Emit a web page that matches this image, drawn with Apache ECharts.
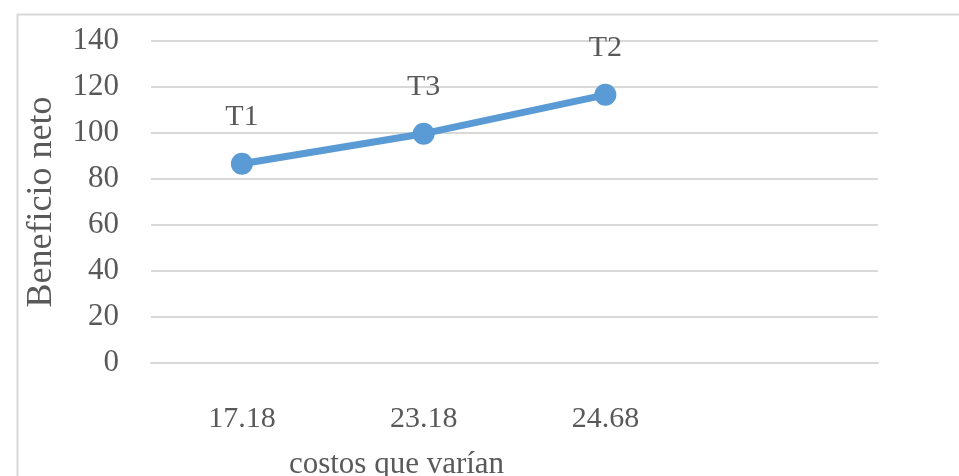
<!DOCTYPE html>
<html>
<head>
<meta charset="utf-8">
<script src="https://cdn.jsdelivr.net/npm/echarts@6/dist/echarts.min.js"></script>
<style>
    html, body { margin: 0; padding: 0; background: #fff; }
    #chart { width: 959px; height: 476px; }
</style>
</head>
<body>
<div id="chart"></div>
<script>
    // costos que varían (last category is empty in the original)
    var categories = ['17.18', '23.18', '24.68', ''];
    var beneficio = [86.6, 99.7, 116.6, null];
    var pointNames = ['T1', 'T3', 'T2', ''];
    var yTicks = [0, 140, 20]; // min, max, interval

    var textColor = '#595959';
    var font = 'Liberation Serif';

    var chart = echarts.init(document.getElementById('chart'));
    chart.setOption({
        backgroundColor: '#fff',
        animation: false,
        graphic: [{
            type: 'rect',
            left: 15, top: 12,
            shape: { width: 1000, height: 520 },
            style: { fill: 'none', stroke: '#D9D9D9', lineWidth: 2 },
            silent: true
        }],
        grid: { left: 151, right: 81, top: 41, bottom: 113, outerBoundsMode: 'none', containLabel: false },
        xAxis: {
            type: 'category',
            data: categories,
            boundaryGap: true,
            axisLine: { show: true, lineStyle: { color: '#D9D9D9', width: 2 } },
            axisTick: { show: false },
            axisLabel: { color: textColor, fontFamily: font, fontSize: 30, margin: 41 },
            name: 'costos que varían',
            nameLocation: 'middle',
            nameGap: 86,
            nameTextStyle: { color: textColor, fontFamily: font, fontSize: 31, padding: [0, 236, 0, 0] }
        },
        yAxis: {
            type: 'value',
            min: yTicks[0], max: yTicks[1], interval: yTicks[2],
            axisLine: { show: false },
            axisTick: { show: false },
            splitLine: { lineStyle: { color: '#D9D9D9', width: 2 } },
            axisLabel: { color: textColor, fontFamily: font, fontSize: 31, margin: 32 },
            name: 'Beneficio neto',
            nameLocation: 'middle',
            nameRotate: 90,
            nameGap: 91,
            nameTextStyle: { color: textColor, fontFamily: font, fontSize: 36 }
        },
        series: [{
            type: 'line',
            data: beneficio,
            symbol: 'circle',
            symbolSize: 22,
            itemStyle: { color: '#5B9BD5' },
            lineStyle: { color: '#5B9BD5', width: 7 },
            label: {
                show: true,
                position: 'top',
                distance: 21,
                color: textColor,
                fontFamily: font,
                fontSize: 30,
                formatter: function (p) { return pointNames[p.dataIndex]; }
            }
        }]
    });
</script>
</body>
</html>
